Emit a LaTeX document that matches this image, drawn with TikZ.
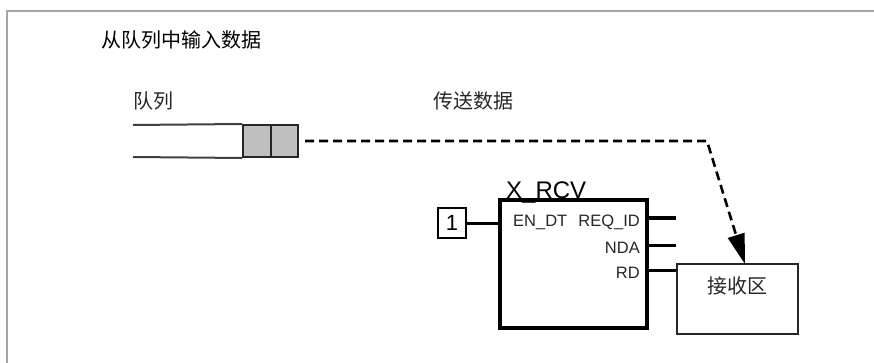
\documentclass[tikz,border=0pt]{standalone}
\usepackage{fontspec}
\setmainfont{Liberation Sans}
\newfontfamily\cjk{Noto Sans CJK SC}
\usetikzlibrary{arrows.meta}
\begin{document}
\begin{tikzpicture}[x=1pt,y=-1pt,
  frameline/.style={draw=black!35,line width=1.8pt},
  qline/.style={draw=black!75,line width=2pt},
  qbox/.style={draw=black!85,fill=black!25,line width=2pt,minimum width=27.5pt,minimum height=32pt,inner sep=0pt},
  fbbox/.style={draw=black,line width=3.2pt,minimum width=147pt,minimum height=128pt,inner sep=0pt},
  pin/.style={draw=black,line width=3pt},
  pinlabel/.style={font=\fontsize{16.5}{18}\selectfont,text=black!85,inner sep=0pt},
  cjklabel/.style={font=\cjk\fontsize{20}{22}\selectfont,text=black!85,inner sep=0pt},
  recvbox/.style={draw=black!85,line width=2.2pt,minimum width=121pt,minimum height=70pt,inner sep=0pt},
  flow/.style={draw=black,line width=2.6pt,dash pattern=on 9pt off 5pt,-{Triangle[length=30pt,width=17pt]}}
]
\useasboundingbox (0,0) rectangle (874,363);
% frame
\draw[frameline] (7,363) -- (7,11) -- (874,11);
% title and labels
\node[cjklabel,text=black,anchor=west] (title) at (101,40) {从队列中输入数据};
\node[cjklabel] (queuelbl) at (153,101) {队列};
\node[cjklabel] (sendlbl) at (473,101) {传送数据};
% queue
\node[qbox] (q1) at (257,141) {};
\node[qbox] (q2) at (284.5,141) {};
\coordinate (qt) at (133,125);
\coordinate (qb) at (133,157);
\draw[qline] (qt) -- (q1.north west);
\draw[qline] (qb) -- (q1.south west);
% function block
\node[fbbox] (blk) at (573.5,264) {};
\node[anchor=base west,inner sep=0pt,font=\fontsize{24}{26}\selectfont] (blkname) at (506,199) {X\_RCV};
\node[pinlabel,anchor=base west] (en) at (513,226) {EN\_DT};
\node[pinlabel,anchor=base east] (req) at (640,226) {REQ\_ID};
\node[pinlabel,anchor=base east] (nda) at (640,253) {NDA};
\node[pinlabel,anchor=base east] (rd) at (640,278) {RD};
\node[draw=black,line width=2.6pt,minimum width=28pt,minimum height=30pt,inner sep=0pt,font=\fontsize{22}{24}\selectfont] (one) at (452,223) {1};
\draw[pin] (one.east) -- (one.east -| blk.west);
\coordinate (reqend) at (676,218);
\coordinate (ndaend) at (676,245);
\draw[pin] (reqend -| blk.east) -- (reqend);
\draw[pin] (ndaend -| blk.east) -- (ndaend);
% receive area
\node[recvbox] (recv) at (737.5,299) {};
\node[cjklabel] (recvlbl) at (737.5,286) {接收区};
\coordinate (rdpt) at (0,270);
\draw[pin] (rdpt -| blk.east) -- (rdpt -| recv.west);
% data flow
\coordinate (start) at (305,141);
\coordinate (bend) at (707,141);
\coordinate (tip) at (745,264);
\draw[flow] (start) -- (bend) -- (tip);
\end{tikzpicture}
\end{document}
